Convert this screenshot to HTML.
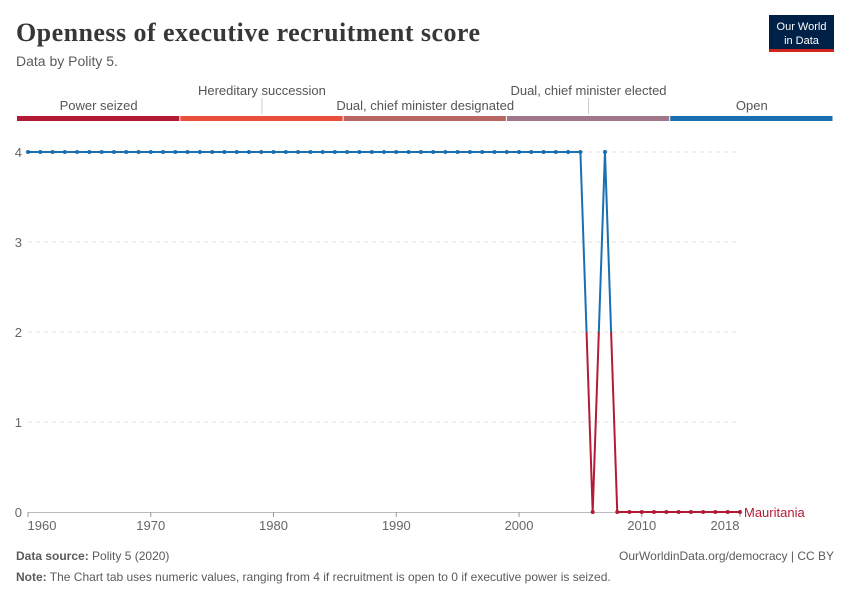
<!DOCTYPE html>
<html><head><meta charset="utf-8"><style>
body{margin:0;background:#fff;width:850px;height:600px;overflow:hidden;font-family:"Liberation Sans",sans-serif}
</style></head><body>
<svg width="850" height="600" xmlns="http://www.w3.org/2000/svg">
<text x="16" y="41" font-family="Liberation Serif,serif" font-size="26" font-weight="bold" fill="#373737" textLength="464">Openness of executive recruitment score</text>
<text x="16" y="66" font-size="14" fill="#5b5b5b">Data by Polity 5.</text>
<g><rect x="769" y="15" width="65" height="37" fill="#002147"/><rect x="769" y="49" width="65" height="3" fill="#ce261e"/>
<text x="801.5" y="30" font-size="11" fill="#fff" text-anchor="middle">Our World</text><text x="801.5" y="44" font-size="11" fill="#fff" text-anchor="middle">in Data</text></g>
<g id="legend"></g>
<g id="grid"></g><g id="axes"></g><g id="plot"></g>
<text x="16" y="560" font-size="12" fill="#5b5b5b"><tspan font-weight="bold">Data source:</tspan> Polity 5 (2020)</text>
<text x="834" y="560" font-size="12" fill="#5b5b5b" text-anchor="end">OurWorldinData.org/democracy | CC BY</text>
<text x="16" y="581" font-size="12" fill="#5b5b5b"><tspan font-weight="bold">Note:</tspan> The Chart tab uses numeric values, ranging from 4 if recruitment is open to 0 if executive power is seized.</text>
</svg>
<script>
const years=[];for(let y=1960;y<=2018;y++)years.push(y);
const values=[4,4,4,4,4,4,4,4,4,4,4,4,4,4,4,4,4,4,4,4,4,4,4,4,4,4,4,4,4,4,4,4,4,4,4,4,4,4,4,4,4,4,4,4,4,4,0,4,0,0,0,0,0,0,0,0,0,0,0];
const yTicks=[0,1,2,3,4];
const xTicks=[1960,1970,1980,1990,2000,2010,2018];
const legendLabels=["Power seized","Hereditary succession","Dual, chief minister designated","Dual, chief minister elected","Open"];
const legendColors=["#b31b34","#e8503a","#b86664","#a0768a","#1a6fb0"];
const NS="http://www.w3.org/2000/svg";
const X=y=>28+(y-1960)*(740-28)/58, Y=v=>512-v*90;
function el(t,a,p){const e=document.createElementNS(NS,t);for(const k in a)e.setAttribute(k,a[k]);p.appendChild(e);return e;}
const lg=document.getElementById('legend');
legendLabels.forEach((l,i)=>{const x0=17+i*163.3;
 const r=el('rect',{x:x0,y:116,width:162.3,height:5,fill:legendColors[i]},lg);
 
 
 const up=i%2==1, cx=x0+81.6;
 if(up)el('line',{x1:cx,y1:98,x2:cx,y2:114,stroke:'#ccc'},lg);
 const t=el('text',{x:cx,y:up?95:110,'font-size':13,fill:'#555','text-anchor':'middle'},lg);t.textContent=l;
 
 });
const g=document.getElementById('grid'),ax=document.getElementById('axes');
yTicks.forEach(v=>{if(v>0){const l=el('line',{x1:28,x2:740,y1:Y(v),y2:Y(v),stroke:'#ddd','stroke-dasharray':'4,4'},g);
 
 }
 const t=el('text',{x:22,y:Y(v)+5,'font-size':13,fill:'#666','text-anchor':'end'},ax);t.textContent=v;
 
 });
el('line',{x1:28,x2:740,y1:512.5,y2:512.5,stroke:'#bbb'},ax);
xTicks.forEach((yr,i)=>{let x=X(yr);if(i==0)x=42;if(yr==2018)x=725;
 el('line',{x1:X(yr),x2:X(yr),y1:512,y2:517,stroke:'#999'},ax);
 const t=el('text',{x:x,y:530,'font-size':13,fill:'#666','text-anchor':'middle'},ax);t.textContent=yr;
 
 });
const p=document.getElementById('plot');
const defs=el('defs',{},p);
const c1=el('clipPath',{id:'top'},defs);el('rect',{x:0,y:0,width:850,height:Y(2)},c1);
const c2=el('clipPath',{id:'bot'},defs);el('rect',{x:0,y:Y(2),width:850,height:300},c2);
[['top','#1a6fb0'],['bot','#b31b34']].forEach(([c,col])=>{
 const gg=el('g',{'clip-path':'url(#'+c+')'},p);
 const d=years.map((y,i)=>(i?'L':'M')+X(y)+','+Y(values[i])).join('');
 const path=el('path',{d:d,fill:'none',stroke:col,'stroke-width':2},gg);
 
 
 years.forEach((y,i)=>{const pt=el('circle',{cx:X(y),cy:Y(values[i]),r:2,fill:col},gg);
  
  });
});
const lab=el('text',{x:X(2018)+4,y:Y(values[values.length-1])+5,'font-size':13,fill:'#b31b34'},p);
lab.textContent='Mauritania';


</script>
</body></html>
